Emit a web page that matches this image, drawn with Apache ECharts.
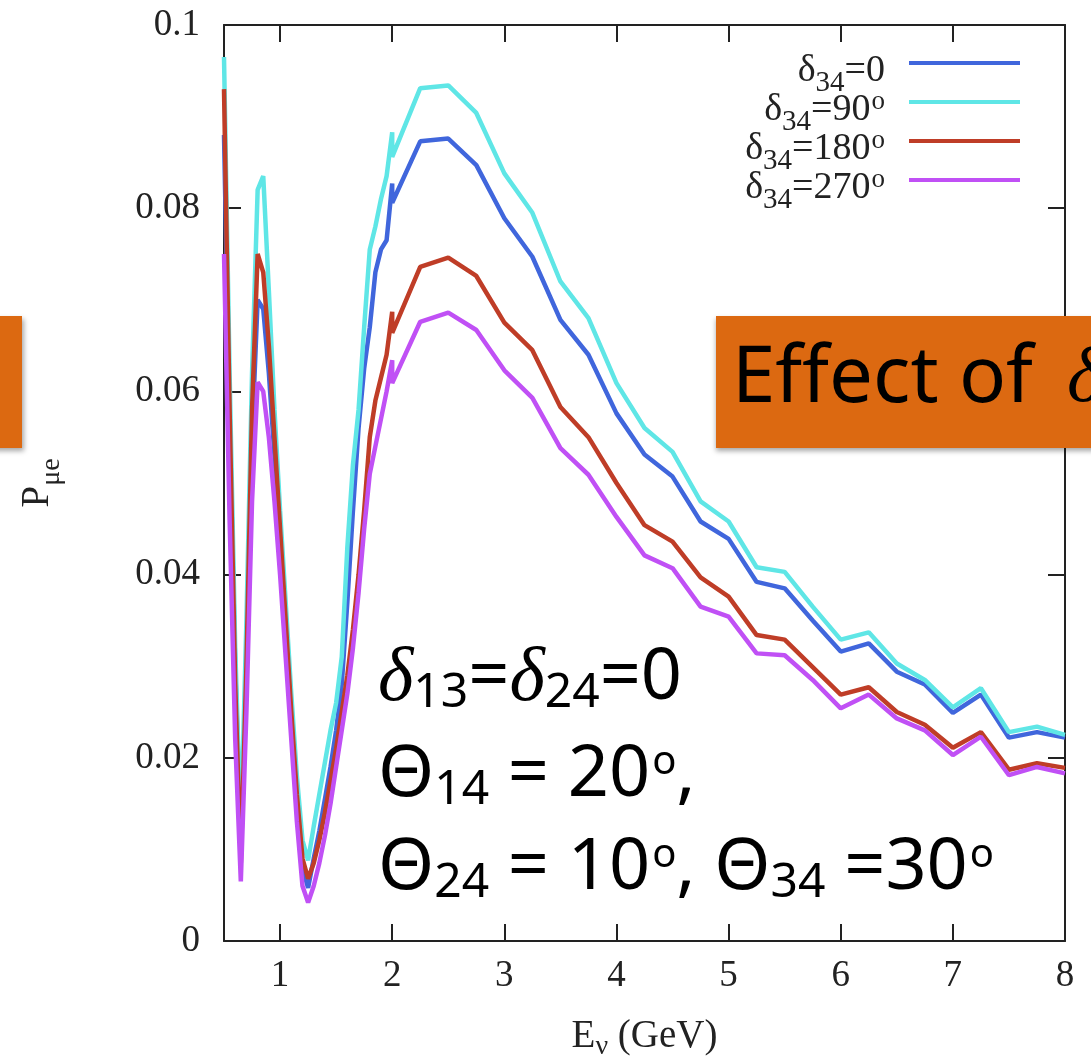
<!DOCTYPE html>
<html><head><meta charset="utf-8">
<script src="https://cdn.jsdelivr.net/npm/echarts@6/dist/echarts.min.js"></script>
<style>html,body{margin:0;padding:0;background:#fff}#c{width:1091px;height:1058px}</style>
</head><body><div id="c"></div>
<script>
// ---- data ----
const energyFine = [0.5,0.55,0.6,0.65,0.7,0.75,0.8,0.85,0.9,0.95,1.0,1.05,1.1,1.15,1.2,1.25,1.3,1.35,1.4,1.45,1.5,1.55,1.6,1.65,1.7,1.75,1.8,1.85,1.9,1.95,2.0];
const energyCoarse = [2.0,2.25,2.5,2.75,3.0,3.25,3.5,3.75,4.0,4.25,4.5,4.75,5.0,5.25,5.5,5.75,6.0,6.25,6.5,6.75,7.0,7.25,7.5,7.75,8.0];

const d0Fine   = [0.088,0.057,0.030,0.011,0.030,0.055,0.070,0.069,0.062,0.053,0.044,0.035,0.025,0.016,0.008,0.0058,0.009,0.012,0.0155,0.019,0.023,0.028,0.037,0.047,0.056,0.0625,0.067,0.073,0.0755,0.0765,0.0827];
const d90Fine  = [0.0965,0.062,0.032,0.012,0.035,0.062,0.082,0.0835,0.071,0.058,0.047,0.037,0.027,0.018,0.011,0.0088,0.0125,0.016,0.0195,0.023,0.026,0.031,0.043,0.052,0.058,0.067,0.0755,0.078,0.081,0.0835,0.0883];
const d180Fine = [0.093,0.058,0.028,0.0085,0.030,0.058,0.075,0.073,0.065,0.055,0.045,0.035,0.025,0.016,0.009,0.0068,0.0085,0.011,0.014,0.0175,0.021,0.025,0.029,0.034,0.040,0.047,0.055,0.059,0.0615,0.064,0.0687];
const d270Fine = [0.075,0.046,0.022,0.0065,0.025,0.048,0.061,0.060,0.055,0.048,0.040,0.031,0.022,0.013,0.006,0.0042,0.006,0.0085,0.0115,0.015,0.019,0.023,0.027,0.032,0.038,0.045,0.051,0.054,0.057,0.060,0.0634];

const d0Coarse   = [0.0806,0.0873,0.0876,0.0847,0.0789,0.0747,0.0678,0.064,0.0576,0.0531,0.0507,0.0458,0.0439,0.0392,0.0385,0.035,0.0316,0.0325,0.0294,0.028,0.0249,0.0269,0.0222,0.0228,0.0222];
const d90Coarse  = [0.0856,0.0931,0.0934,0.0904,0.0838,0.0795,0.072,0.068,0.0609,0.056,0.0534,0.048,0.0458,0.0408,0.0403,0.0365,0.0329,0.0337,0.0303,0.0285,0.0255,0.0276,0.0228,0.0234,0.0225];
const d180Coarse = [0.0664,0.0736,0.0746,0.0726,0.0675,0.0645,0.0583,0.055,0.050,0.0454,0.0436,0.0397,0.0376,0.0334,0.0329,0.0299,0.0269,0.0277,0.025,0.0236,0.0211,0.0228,0.0187,0.0194,0.0189];
const d270Coarse = [0.0609,0.0676,0.0686,0.0667,0.0623,0.0593,0.0538,0.0509,0.0463,0.0421,0.0407,0.0365,0.0354,0.0314,0.0312,0.0285,0.0254,0.0269,0.0243,0.023,0.0203,0.0223,0.0181,0.019,0.0183];

const seriesNames = ['δ34=0', 'δ34=90°', 'δ34=180°', 'δ34=270°'];
const legendValues = ['0', '90', '180', '270'];
const legendSup = ['', 'o', 'o', 'o'];
const seriesColors = ['#4066dc', '#5fe6e6', '#bf3d27', '#c050f5'];
const xTicks = [1, 2, 3, 4, 5, 6, 7, 8];
const yTicks = [0, 0.02, 0.04, 0.06, 0.08, 0.1];

// ---- build ----
function pairs(fine, coarse) {
  const out = [];
  energyFine.forEach((x, i) => out.push([x, fine[i]]));
  energyCoarse.forEach((x, i) => out.push([x, coarse[i]]));
  return out;
}
const allFine = [d0Fine, d90Fine, d180Fine, d270Fine];
const allCoarse = [d0Coarse, d90Coarse, d180Coarse, d270Coarse];

const serif = 'Liberation Serif';
const ink = '#222';
const axisLine = { show: true, onZero: false, lineStyle: { color: ink, width: 2 } };
const tick = (vals) => ({ show: true, inside: true, length: 17, customValues: vals, lineStyle: { color: ink, width: 2 } });

const chart = echarts.init(document.getElementById('c'), null, { renderer: 'canvas' });

const annRich = {
  a: { fontSize: 72, fontFamily: 'Noto Sans', lineHeight: 72, verticalAlign: 'top', fill: '#000' },
  e: { fontSize: 78, fontFamily: 'Noto Sans', lineHeight: 72, verticalAlign: 'top', fill: '#000' },
  i: { fontSize: 76, fontFamily: serif, fontStyle: 'italic', lineHeight: 72, verticalAlign: 'top', fill: '#000' },
  j: { fontSize: 78, fontFamily: serif, fontStyle: 'italic', lineHeight: 72, padding: [0, 0, 0, 34], verticalAlign: 'top', fill: '#000' },
  b: { fontSize: 48, fontFamily: 'Noto Sans', lineHeight: 48, padding: [27, 0, 0, 0], verticalAlign: 'top', fill: '#000' },
  o: { fontSize: 40, fontFamily: 'Noto Sans', lineHeight: 40, padding: [4, 0, 0, 2], verticalAlign: 'top', fill: '#000' }
};

chart.setOption({
  animation: false,
  backgroundColor: '#fff',
  grid: { left: 224, right: 26, top: 25, bottom: 117, outerBoundsMode: 'none', containLabel: false },
  xAxis: [{
    type: 'value', min: 0.5, max: 8, position: 'bottom',
    axisLine: axisLine, axisTick: tick(xTicks), splitLine: { show: false },
    axisLabel: { customValues: xTicks, color: ink, fontFamily: serif, fontSize: 37, margin: 17 },
    name: '{e|E}{n|ν}{e| (GeV)}', nameLocation: 'middle', nameGap: 76,
    nameTextStyle: { color: ink, rich: {
      e: { fontSize: 39, fontFamily: serif, lineHeight: 36, verticalAlign: 'top', color: ink },
      n: { fontSize: 28, fontFamily: serif, lineHeight: 26, padding: [16, 0, 0, 0], verticalAlign: 'top', color: ink }
    } }
  }, {
    type: 'value', min: 0.5, max: 8, position: 'top',
    axisLine: axisLine, axisTick: tick(xTicks), splitLine: { show: false },
    axisLabel: { show: false }
  }],
  yAxis: [{
    type: 'value', min: 0, max: 0.1, position: 'left',
    axisLine: axisLine, axisTick: tick(yTicks), splitLine: { show: false },
    axisLabel: { customValues: yTicks, color: ink, fontFamily: serif, fontSize: 37, margin: 24, formatter: v => String(v) },
    name: '{p|P}{m|μe}', nameLocation: 'middle', nameGap: 170, nameRotate: 90,
    nameTextStyle: { color: ink, rich: {
      p: { fontSize: 39, fontFamily: serif, lineHeight: 36, verticalAlign: 'top', color: ink },
      m: { fontSize: 28, fontFamily: serif, lineHeight: 26, padding: [20, 0, 0, 0], verticalAlign: 'top', color: ink }
    } }
  }, {
    type: 'value', min: 0, max: 0.1, position: 'right',
    axisLine: axisLine, axisTick: tick(yTicks), splitLine: { show: false },
    axisLabel: { show: false }
  }],
  legend: {
    orient: 'vertical', align: 'right', right: 71, top: 49, padding: 0,
    itemGap: -10, itemWidth: 111, itemHeight: 4, icon: 'rect',
    data: seriesNames,
    formatter: function (name) {
      const i = seriesNames.indexOf(name);
      return '{d|δ}{s|34}{d|=' + legendValues[i] + '}' + (legendSup[i] ? '{o|' + legendSup[i] + '}' : '') + '{g| }';
    },
    textStyle: { color: ink, rich: {
      d: { fontSize: 38, fontFamily: serif, lineHeight: 28, padding: [3, 0, 0, 0], verticalAlign: 'top', color: ink },
      s: { fontSize: 29, fontFamily: serif, lineHeight: 17, padding: [20, 0, 0, 0], verticalAlign: 'top', color: ink },
      o: { fontSize: 27, fontFamily: serif, lineHeight: 14, padding: [0, 0, 0, 1], verticalAlign: 'top', color: ink },
      g: { width: 19, fontSize: 10, lineHeight: 10 }
    } }
  },
  series: seriesNames.map((n, k) => ({
    name: n, type: 'line', xAxisIndex: 0, yAxisIndex: 0,
    data: pairs(allFine[k], allCoarse[k]),
    symbol: 'none', showSymbol: false, smooth: false,
    color: seriesColors[k],
    lineStyle: { width: 4.5, color: seriesColors[k] },
    z: 2 + k
  })),
  graphic: [
    { type: 'rect', z: 100, shape: { x: -10, y: 316, width: 32, height: 132 },
      style: { fill: '#dc6911', shadowBlur: 5, shadowOffsetX: 2, shadowOffsetY: 3, shadowColor: 'rgba(0,0,0,0.35)' } },
    { type: 'rect', z: 100, shape: { x: 716, y: 316, width: 420, height: 132 },
      style: { fill: '#dc6911', shadowBlur: 5, shadowOffsetX: 0, shadowOffsetY: 3, shadowColor: 'rgba(0,0,0,0.35)' } },
    { type: 'text', z: 101, x: 732, y: 341,
      style: { text: '{e|Effect of}{j|δ}{b|34}', verticalAlign: 'top', rich: annRich } },
    { type: 'text', z: 101, x: 378, y: 642,
      style: { text: '{i|δ}{b|13}{a|=}{i|δ}{b|24}{a|=0}', verticalAlign: 'top', rich: annRich } },
    { type: 'text', z: 101, x: 378, y: 739,
      style: { text: '{a|Θ}{b|14}{a| = 20}{o|o}{a|,}', verticalAlign: 'top', rich: annRich } },
    { type: 'text', z: 101, x: 378, y: 832,
      style: { text: '{a|Θ}{b|24}{a| = 10}{o|o}{a|, Θ}{b|34}{a| =30}{o|o}', verticalAlign: 'top', rich: annRich } }
  ]
});
</script>
</body></html>
